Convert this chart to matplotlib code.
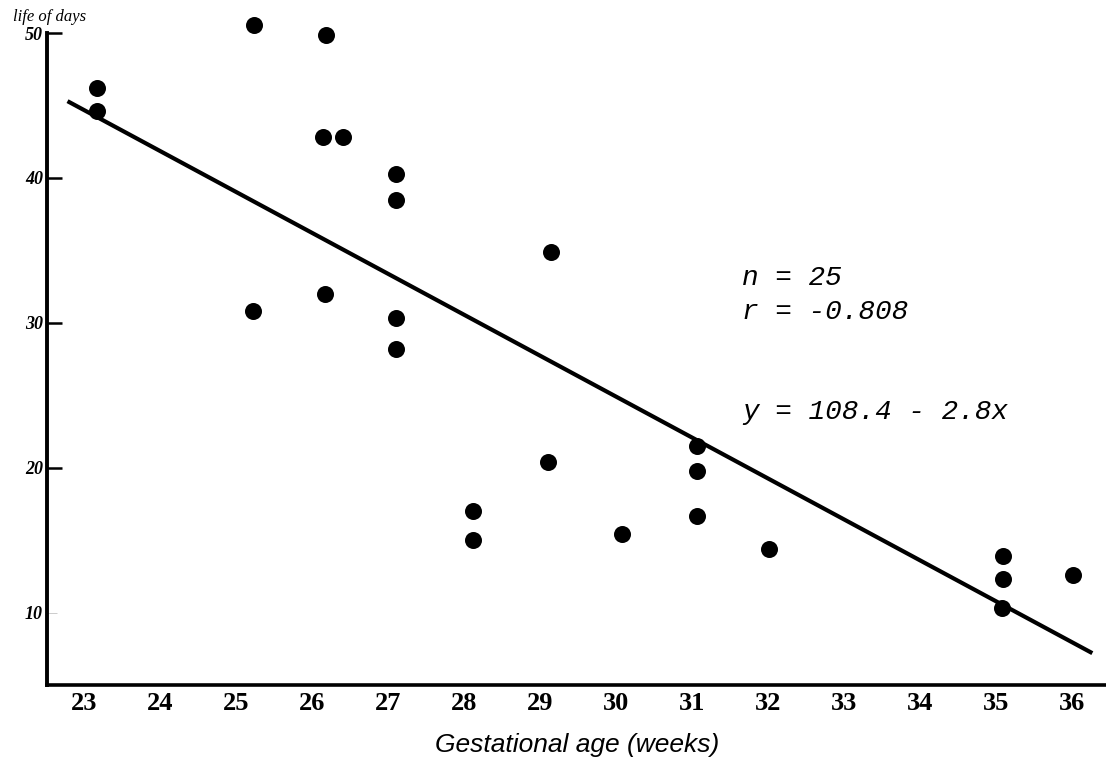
import matplotlib
matplotlib.use('Agg')
import matplotlib.pyplot as plt

# gestational age (weeks) and life (days)
ages = [23.17, 23.17, 25.23, 26.18, 26.14, 26.40, 27.11, 27.11, 25.22, 26.17,
        27.11, 27.11, 29.14, 29.10, 28.12, 28.12, 30.08, 31.06, 31.06, 31.06,
        32.01, 35.10, 35.10, 35.08, 36.02]
days = [46.2, 44.6, 50.55, 49.9, 42.8, 42.8, 40.3, 38.5, 30.8, 32.0,
        30.3, 28.2, 34.9, 20.4, 17.0, 15.0, 15.45, 21.5, 19.8, 16.7,
        14.4, 13.9, 12.3, 10.3, 12.6]

# regression line as drawn
fit_x = [22.78, 36.27]
fit_y = [45.3, 7.2]

x_ticks = list(range(23, 37))
y_ticks = [10, 20, 30, 40, 50]

fig = plt.figure(figsize=(11.06, 7.78), dpi=100)
ax = fig.add_axes([0.0425, 0.1195, 0.9575, 0.838])

ax.scatter(ages, days, s=150, color='black', zorder=3, linewidths=0, clip_on=False)
ax.plot(fit_x, fit_y, color='black', linewidth=3, solid_capstyle='butt', zorder=2)

ax.set_xlim(22.51, 36.45)
ax.set_ylim(5, 50)

for side in ['top', 'right']:
    ax.spines[side].set_visible(False)
ax.spines['left'].set_linewidth(2.8)
ax.spines['bottom'].set_linewidth(2.6)

ax.set_xticks(x_ticks)
ax.set_xticklabels([str(t) for t in x_ticks], fontfamily='Liberation Serif',
                   fontweight='bold', fontsize=19)
ax.tick_params(axis='x', length=0, pad=5)

ax.set_yticks(y_ticks)
ax.set_yticklabels([str(t) for t in y_ticks], fontfamily='Liberation Serif',
                   fontstyle='italic', fontweight='bold', fontsize=13)
ax.tick_params(axis='y', direction='in', length=11, width=1.8, pad=3)
# the 10 tick is barely visible in the scan
ten = ax.yaxis.get_major_ticks()[0]
ten.tick1line.set_markeredgecolor('#cccccc')
ten.tick1line.set_markeredgewidth(0.7)
ten.tick1line.set_markersize(7)

fig.text(50 / 1106, 1 - 17 / 778, 'life of days', ha='center', va='center',
         fontfamily='Liberation Serif', fontstyle='italic', fontsize=12)
fig.text(577 / 1106, 1 - 745 / 778, 'Gestational age (weeks)', ha='center',
         va='center', fontfamily='Liberation Sans', fontstyle='italic', fontsize=19)

mono = dict(fontfamily='Liberation Mono', fontstyle='italic', fontsize=20,
            ha='left', va='center')
ax.text(31.66, 33.1, 'n = 25', **mono)
ax.text(31.66, 30.76, 'r = -0.808', **mono)
ax.text(31.66, 23.86, 'y = 108.4 - 2.8x', **mono)

fig.savefig('out.png', dpi=100)
